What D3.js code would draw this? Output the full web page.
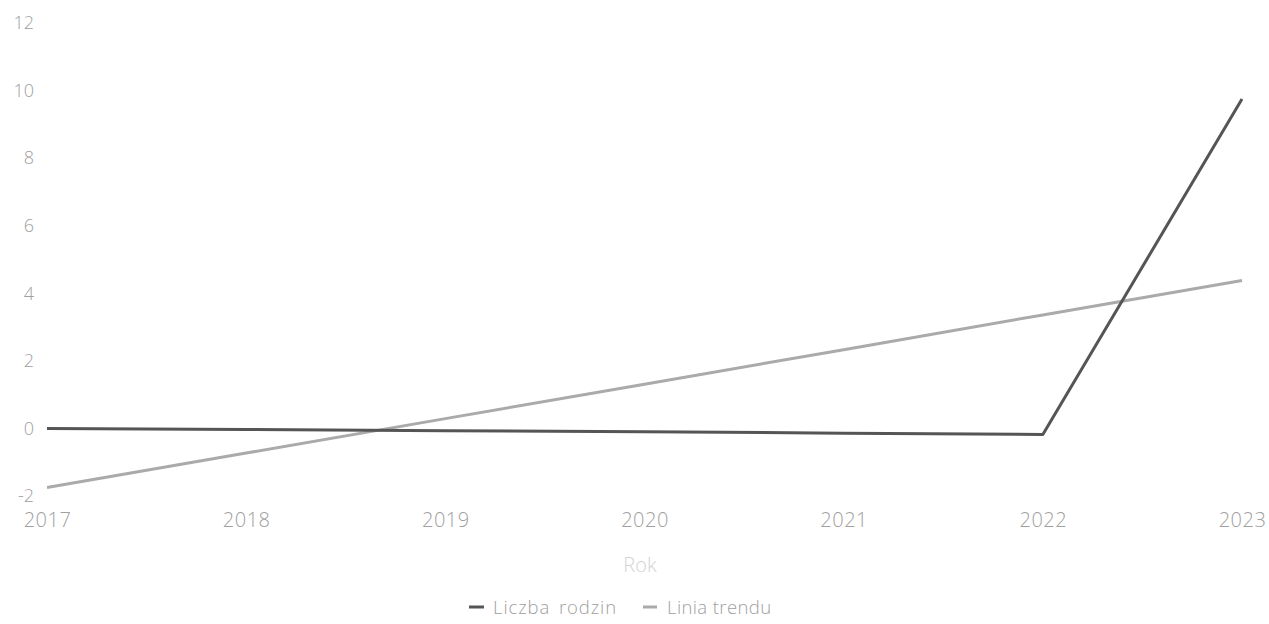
<!DOCTYPE html>
<html><head><meta charset="utf-8">
<script src="https://cdn.jsdelivr.net/npm/d3@7"></script>
<style>
body{margin:0;background:#fff;}
text{font-family:"Open Sans",sans-serif;font-weight:300;}
</style></head>
<body><svg id="c" width="1269" height="624"></svg>
<script>
const years = [2017, 2018, 2019, 2020, 2021, 2022, 2023];
const liczbaRodzin = [0, -0.03, -0.07, -0.1, -0.14, -0.18, 9.75];
const liniaTrendu = [-1.75, -0.73, 0.29, 1.31, 2.33, 3.36, 4.38];
const yTicks = [-2, 0, 2, 4, 6, 8, 10, 12];
const seriesNames = ["Liczba rodzin", "Linia trendu"];
const seriesColors = ["#555555", "#aaaaaa"];

const svg = d3.select("#c");
const x = d3.scaleLinear().domain([2017, 2023]).range([47, 1242]);
const y = d3.scaleLinear().domain([-2, 12]).range([496, 23]);

const yAxis = svg.append("g").attr("transform", "translate(34,0)")
  .call(d3.axisLeft(y).tickValues(yTicks).tickSize(0).tickPadding(0).tickFormat(d => String(d)));
yAxis.select(".domain").remove();
yAxis.selectAll("text").attr("fill", "#a0a0a0").style("font-size", "18px");

const xAxis = svg.append("g").attr("transform", "translate(0,513)")
  .call(d3.axisBottom(x).tickValues(years).tickSize(0).tickPadding(0).tickFormat(d => String(d)));
xAxis.select(".domain").remove();
xAxis.selectAll("text").attr("fill", "#a0a0a0").style("font-size", "20px").style("letter-spacing", "0.5px");

svg.append("text").attr("x", 640).attr("y", 572).attr("text-anchor", "middle")
  .attr("fill", "#d4d4d4").style("font-size", "20px").text("Rok");

const line = d3.line().x((d, i) => x(years[i])).y(d => y(d));
[liniaTrendu, liczbaRodzin].forEach((s, k) => {
  const idx = k === 0 ? 1 : 0;
  svg.append("path").datum(s).attr("d", line).attr("fill", "none")
    .attr("stroke", seriesColors[idx]).attr("stroke-width", 3).attr("stroke-linejoin", "round");
});

const legend = svg.append("g");
const lx = [469, 643];
const lw = [15, 14];
const tx = [493, 667];
const ls = [0.9, 0.4];
const ws = [3, 0];
seriesNames.forEach((n, i) => {
  legend.append("line").attr("x1", lx[i]).attr("x2", lx[i] + lw[i]).attr("y1", 607).attr("y2", 607)
    .attr("stroke", seriesColors[i]).attr("stroke-width", 3);
  legend.append("text").attr("x", tx[i]).attr("y", 614).attr("fill", "#a0a0a0")
    .style("font-size", "18.5px").style("letter-spacing", ls[i] + "px").style("word-spacing", ws[i] + "px").text(n);
});
</script></body></html>
